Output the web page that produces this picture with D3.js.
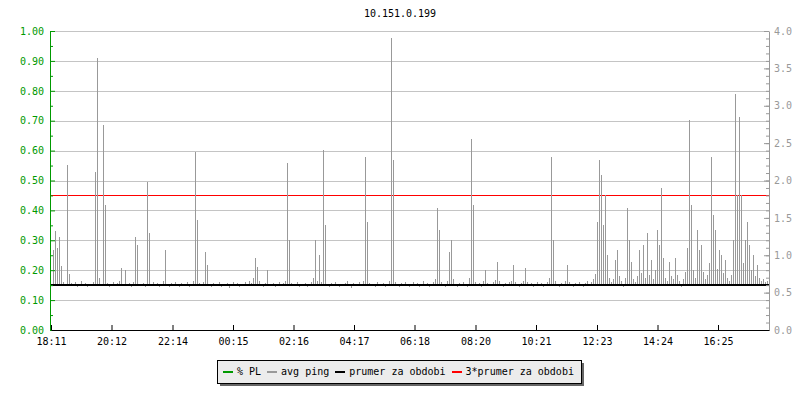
<!DOCTYPE html>
<html>
<head>
<meta charset="utf-8">
<script src="https://cdn.jsdelivr.net/npm/d3@7"></script>
<style>
  body { margin: 0; background: #fff; }
  svg text { font-family: "DejaVu Sans Mono", monospace; font-size: 10px; }
</style>
</head>
<body>
<div id="chart"></div>
<script>
// ---- data ----
let chartTitle = '10.151.0.199';
let tickMinutes = [0, 121, 243, 364, 485, 606, 727, 849, 970, 1092, 1213, 1334];
let tickLabels = ['18:11', '20:12', '22:14', '00:15', '02:16', '04:17', '06:18', '08:20', '10:21', '12:23', '14:24', '16:25'];
let totalMinutes = 1436;
let pingStep = 4; // minutes between samples
let pingValues = [
    0.62, 1.07, 1.33, 1.10, 1.25, 0.85, 0.64, 0.62, 2.21, 0.75, 0.63, 0.61, 0.64, 0.57, 0.62, 0.65, 0.61, 0.63, 0.58, 0.62,
    0.61, 0.64, 2.11, 3.64, 0.70, 0.62, 2.74, 1.67, 0.63, 0.57, 0.62, 0.64, 0.61, 0.63, 0.66, 0.83, 0.62, 0.80, 0.61, 0.63,
    0.58, 0.64, 1.24, 1.14, 0.62, 0.61, 0.63, 0.57, 1.98, 1.30, 0.62, 0.64, 0.61, 0.63, 0.58, 0.62, 0.65, 1.07, 0.62, 0.57,
    0.63, 0.61, 0.64, 0.62, 0.58, 0.63, 0.61, 0.62, 0.64, 0.57, 0.62, 0.66, 2.38, 1.47, 0.63, 0.61, 0.64, 1.04, 0.87, 0.62,
    0.57, 0.63, 0.61, 0.62, 0.64, 0.58, 0.62, 0.61, 0.63, 0.56, 0.62, 0.64, 0.61, 0.63, 0.58, 0.62, 0.61, 0.64, 0.62, 0.66,
    0.63, 0.70, 0.96, 0.84, 0.65, 0.62, 0.57, 0.63, 0.80, 0.62, 0.61, 0.63, 0.58, 0.62, 0.64, 0.61, 0.63, 0.66, 2.23, 1.20,
    0.63, 0.61, 0.62, 0.64, 0.57, 0.62, 0.61, 0.63, 0.58, 0.62, 0.64, 0.70, 1.20, 0.66, 1.00, 0.64, 2.41, 1.40, 0.62, 0.57,
    0.63, 0.61, 0.64, 0.62, 0.58, 0.62, 0.61, 0.63, 0.65, 0.62, 0.56, 0.63, 0.61, 0.62, 0.64, 0.61, 0.66, 2.31, 1.45, 0.63,
    0.61, 0.62, 0.57, 0.64, 0.62, 0.61, 0.63, 0.58, 0.62, 0.66, 3.91, 2.27, 0.64, 0.62, 0.57, 0.63, 0.61, 0.64, 0.62, 0.58,
    0.62, 0.64, 0.61, 0.63, 0.57, 0.62, 0.65, 0.61, 0.63, 0.58, 0.62, 0.64, 0.68, 1.63, 1.34, 0.64, 0.62, 0.57, 0.66, 1.04,
    1.20, 0.68, 0.62, 0.58, 0.63, 0.61, 0.64, 0.62, 0.57, 0.70, 2.56, 1.67, 0.64, 0.61, 0.63, 0.58, 0.66, 0.80, 0.63, 0.61,
    0.62, 0.64, 0.67, 0.91, 0.65, 0.62, 0.57, 0.63, 0.61, 0.64, 0.66, 0.87, 0.64, 0.62, 0.58, 0.63, 0.66, 0.83, 0.64, 0.61,
    0.63, 0.57, 0.62, 0.64, 0.61, 0.63, 0.58, 0.62, 0.64, 0.70, 2.31, 1.20, 0.65, 0.62, 0.57, 0.63, 0.61, 0.66, 0.87, 0.64,
    0.62, 0.58, 0.63, 0.61, 0.64, 0.62, 0.57, 0.63, 0.66, 0.62, 0.64, 0.68, 0.75, 1.45, 2.27, 2.07, 1.40, 1.81, 1.00, 0.70,
    0.64, 0.68, 0.94, 1.07, 0.72, 0.66, 0.58, 0.70, 1.63, 1.20, 0.91, 0.68, 0.64, 0.72, 1.07, 0.76, 1.14, 0.70, 1.30, 0.74,
    0.94, 0.68, 0.80, 1.34, 1.14, 1.90, 0.96, 0.70, 0.66, 0.91, 0.72, 0.68, 0.96, 0.74, 0.66, 0.57, 0.68, 0.78, 1.10, 2.81,
    1.67, 0.80, 0.70, 1.34, 1.07, 1.14, 0.78, 0.68, 0.74, 0.90, 2.31, 1.54, 1.34, 0.82, 1.07, 1.00, 0.76, 0.94, 0.70, 0.66,
    0.74, 1.20, 3.16, 1.81, 2.85, 1.81, 0.90, 1.20, 1.45, 1.14, 0.80, 1.00, 0.72, 0.87, 0.70, 0.66, 0.68, 0.64, 0.66, 0.63
];
let plTimes = [0, 1436];
let plValues = [0, 0];
let meanValue = 0.15;
let tripleMeanValue = 0.45;
let leftMajor = [0, 0.1, 0.2, 0.3, 0.4, 0.5, 0.6, 0.7, 0.8, 0.9, 1.0];
let leftMinor = [0.05, 0.15, 0.25, 0.35, 0.45, 0.55, 0.65, 0.75, 0.85, 0.95];
let rightMajor = [0, 0.5, 1.0, 1.5, 2.0, 2.5, 3.0, 3.5, 4.0];
let rightMinor = d3.range(0, 41).map(d => d / 10);
let legendItems = [
    {label: '% PL', color: '#009900'},
    {label: 'avg ping', color: '#999999'},
    {label: 'prumer za obdobi', color: '#000000'},
    {label: '3*prumer za obdobi', color: '#ff0000'}
];

// ---- layout ----
let width = 800,
    height = 400,
    plot = {left: 51, right: 769, top: 31, bottom: 330};

let svg = d3.select('#chart').append('svg')
    .attr('width', width)
    .attr('height', height);

let xScale = d3.scaleLinear()
    .domain([0, totalMinutes])
    .range([plot.left, plot.right]);

let yScale = d3.scaleLinear()
    .domain([0, 1])
    .range([plot.bottom, plot.top]);

let y2Scale = d3.scaleLinear()
    .domain([0, 4])
    .range([plot.bottom, plot.top]);

// title
svg.append('text')
    .attr('x', 400)
    .attr('y', 17)
    .attr('text-anchor', 'middle')
    .attr('fill', '#000')
    .text(chartTitle);

// grid
svg.append('g')
    .selectAll('line')
    .data(leftMajor.slice(1))
    .join('line')
    .attr('x1', plot.left)
    .attr('x2', plot.right)
    .attr('y1', d => Math.round(yScale(d)) + 0.5)
    .attr('y2', d => Math.round(yScale(d)) + 0.5)
    .attr('stroke', '#c4c4c4')
    .attr('shape-rendering', 'crispEdges');

// 3*mean (red)
svg.append('line')
    .attr('x1', plot.left)
    .attr('x2', plot.right)
    .attr('y1', Math.round(yScale(tripleMeanValue)) + 0.5)
    .attr('y2', Math.round(yScale(tripleMeanValue)) + 0.5)
    .attr('stroke', '#ff0000')
    .attr('shape-rendering', 'crispEdges');

// avg ping (right axis): one thin stroke per sample off the mean level
let pingBase = Math.round(yScale(meanValue));

svg.append('g')
    .selectAll('line')
    .data(pingValues)
    .join('line')
    .attr('x1', (d, i) => Math.round(xScale(i * pingStep)) + 0.5)
    .attr('x2', (d, i) => Math.round(xScale(i * pingStep)) + 0.5)
    .attr('y1', d => d >= 0.6 ? pingBase - 1 : pingBase + 1)
    .attr('y2', d => Math.round(y2Scale(d)))
    .attr('stroke', '#999999')
    .attr('shape-rendering', 'crispEdges');

// mean (black)
svg.append('line')
    .attr('x1', plot.left)
    .attr('x2', plot.right)
    .attr('y1', Math.round(yScale(meanValue)))
    .attr('y2', Math.round(yScale(meanValue)))
    .attr('stroke', '#000')
    .attr('stroke-width', 2)
    .attr('shape-rendering', 'crispEdges');

// % PL (green)
let plLine = d3.line()
    .x((d, i) => xScale(plTimes[i]))
    .y(d => yScale(d) + 0.5);

svg.append('path')
    .datum(plValues)
    .attr('d', plLine)
    .attr('fill', 'none')
    .attr('stroke', '#009900')
    .attr('shape-rendering', 'crispEdges');

// left axis
let leftMinorAxis = svg.append('g')
    .attr('transform', `translate(${plot.left - 1},0)`)
    .call(d3.axisLeft(yScale).tickValues(leftMinor).tickSize(-3).tickFormat(''));
leftMinorAxis.select('.domain').remove();
leftMinorAxis.selectAll('line').attr('stroke', '#009900');

let leftAxis = svg.append('g')
    .attr('transform', `translate(${plot.left - 1},0)`)
    .call(d3.axisLeft(yScale).tickValues(leftMajor).tickSize(-5).tickSizeOuter(0).tickPadding(6).tickFormat(d3.format('.2f')));
leftAxis.select('.domain').attr('stroke', '#009900');
leftAxis.selectAll('line').attr('stroke', '#009900');
leftAxis.selectAll('text')
    .attr('fill', '#009900')
    .style('font-family', '"DejaVu Sans Mono", monospace')
    .style('font-size', '10px');

// right axis
let rightMinorAxis = svg.append('g')
    .attr('transform', `translate(${plot.right},0)`)
    .call(d3.axisRight(y2Scale).tickValues(rightMinor).tickSize(-3).tickFormat(''));
rightMinorAxis.select('.domain').remove();
rightMinorAxis.selectAll('line').attr('stroke', '#999999');

let rightAxis = svg.append('g')
    .attr('transform', `translate(${plot.right},0)`)
    .call(d3.axisRight(y2Scale).tickValues(rightMajor).tickSize(-5).tickSizeOuter(0).tickPadding(5).tickFormat(d3.format('.1f')));
rightAxis.select('.domain').attr('stroke', '#999999');
rightAxis.selectAll('line').attr('stroke', '#999999');
rightAxis.selectAll('text')
    .attr('fill', '#999999')
    .style('font-family', '"DejaVu Sans Mono", monospace')
    .style('font-size', '10px');

// bottom axis
let bottomAxis = svg.append('g')
    .attr('transform', `translate(0,${plot.bottom})`)
    .call(d3.axisBottom(xScale).tickValues(tickMinutes).tickSize(-5).tickSizeOuter(0).tickPadding(8)
        .tickFormat((d, i) => tickLabels[i]));
bottomAxis.select('.domain').attr('stroke', '#000');
bottomAxis.selectAll('line').attr('stroke', '#000');
bottomAxis.selectAll('text')
    .attr('fill', '#000')
    .style('font-family', '"DejaVu Sans Mono", monospace')
    .style('font-size', '10px');

// legend
let legend = {x: 217, y: 360, w: 364, h: 23};

svg.append('rect')
    .attr('x', legend.x + 3)
    .attr('y', legend.y + 3)
    .attr('width', legend.w)
    .attr('height', legend.h)
    .attr('fill', '#666');

svg.append('rect')
    .attr('x', legend.x + 0.5)
    .attr('y', legend.y + 0.5)
    .attr('width', legend.w)
    .attr('height', legend.h)
    .attr('fill', '#ececec')
    .attr('stroke', '#000');

let cursor = legend.x + 6;
legendItems.forEach(item => {
    svg.append('line')
        .attr('x1', cursor)
        .attr('x2', cursor + 10)
        .attr('y1', legend.y + 12)
        .attr('y2', legend.y + 12)
        .attr('stroke', item.color)
        .attr('stroke-width', 2)
        .attr('shape-rendering', 'crispEdges');
    svg.append('text')
        .attr('x', cursor + 14)
        .attr('y', legend.y + 15)
        .attr('fill', '#000')
        .text(item.label);
    cursor += 14 + item.label.length * 6.02 + 6;
});
</script>
</body>
</html>
